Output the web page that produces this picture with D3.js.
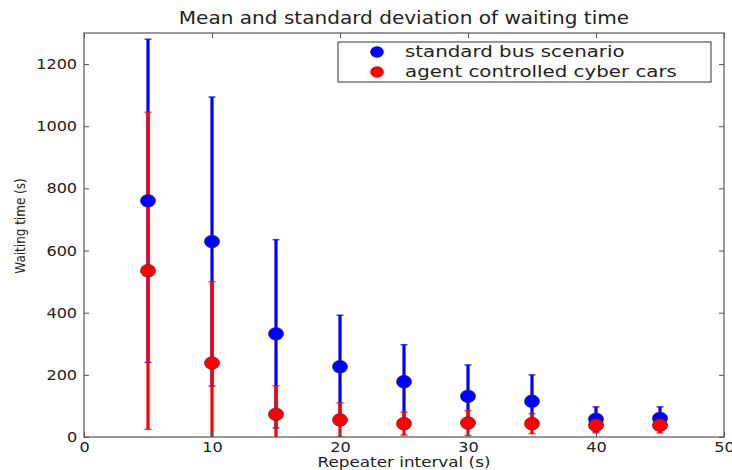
<!DOCTYPE html>
<html><head><meta charset="utf-8">
<script src="https://cdn.jsdelivr.net/npm/d3@7"></script>
<style>body{margin:0;background:#fff}svg{display:block}text{font-family:"DejaVu Sans",sans-serif;fill:#222}</style>
</head><body><svg id="c" width="732" height="470"></svg>
<script>
const intervals = [5, 10, 15, 20, 25, 30, 35, 40, 45];
const busMean = [760, 629, 332, 226, 178, 131, 115, 57, 60];
const busStd  = [520, 465, 303, 166, 119, 101, 85, 40, 37];
const carMean = [535, 238, 73, 55, 43, 45, 43, 38, 38];
const carStd  = [510, 262, 92, 55, 37, 40, 32, 25, 25];
const xTicks = [0, 10, 20, 30, 40, 50];
const yTicks = [0, 200, 400, 600, 800, 1000, 1200];
const seriesNames = ["standard bus scenario", "agent controlled cyber cars"];
const seriesColors = ["#0000ff", "#ff0000"];

const svg = d3.select("#c");
const L = 84, R = 724, T = 33, B = 437;
const x = d3.scaleLinear().domain([0, 50]).range([L, R]);
const y = d3.scaleLinear().domain([0, 1300]).range([B, T]);

svg.append("defs").append("clipPath").attr("id", "clip")
  .append("rect").attr("x", L).attr("y", T).attr("width", R - L).attr("height", B - T);

const series = [
  {mean: busMean, std: busStd, color: seriesColors[0]},
  {mean: carMean, std: carStd, color: seriesColors[1]}
];

const plot = svg.append("g").attr("clip-path", "url(#clip)");
series.forEach(s => {
  const g = plot.append("g");
  intervals.forEach((xi, i) => {
    const lo = s.mean[i] - s.std[i], hi = s.mean[i] + s.std[i];
    g.append("line").attr("x1", x(xi)).attr("x2", x(xi))
      .attr("y1", y(lo)).attr("y2", y(hi))
      .attr("stroke", s.color).attr("stroke-width", 3.2);
    [lo, hi].forEach(v => g.append("line")
      .attr("x1", x(xi) - 3.5).attr("x2", x(xi) + 3.5)
      .attr("y1", y(v)).attr("y2", y(v))
      .attr("stroke", s.color).attr("stroke-width", 1.5).attr("opacity", 0.75));
  });
});
series.forEach(s => {
  svg.append("g").selectAll("ellipse").data(intervals).join("ellipse")
    .attr("cx", d => x(d)).attr("cy", (d, i) => y(s.mean[i]))
    .attr("rx", 7.6).attr("ry", 6.4)
    .attr("fill", s.color).attr("stroke", "#333").attr("stroke-width", 0.6);
});

svg.append("rect").attr("x", L).attr("y", T).attr("width", R - L).attr("height", B - T)
  .attr("fill", "none").attr("stroke", "#555").attr("stroke-width", 1.2);

const fmt = d3.format("d");
const ax = svg.append("g").attr("transform", `translate(0,${B})`)
  .call(d3.axisBottom(x).tickValues(xTicks).tickFormat(fmt).tickSize(-5).tickPadding(5));
const at = svg.append("g").attr("transform", `translate(0,${T})`)
  .call(d3.axisTop(x).tickValues(xTicks).tickFormat("").tickSize(-5));
const ay = svg.append("g").attr("transform", `translate(${L},0)`)
  .call(d3.axisLeft(y).tickValues(yTicks).tickFormat(fmt).tickSize(-5).tickPadding(6));
const ar = svg.append("g").attr("transform", `translate(${R},0)`)
  .call(d3.axisRight(y).tickValues(yTicks).tickFormat("").tickSize(-5));
[ax, at, ay, ar].forEach(g => {
  g.select(".domain").remove();
  g.selectAll(".tick line").attr("stroke", "#555");
  g.selectAll("text").attr("font-size", 14).attr("font-family", "DejaVu Sans")
    .attr("fill", "#222").attr("transform", "scale(1.15,1)");
});

function label(px, py, size, sx, txt, rot) {
  svg.append("text")
    .attr("transform", `translate(${px},${py}) scale(${sx},1)` + (rot ? ` rotate(${rot})` : ""))
    .attr("text-anchor", "middle").attr("font-size", size).text(txt);
}
label(404, 24, 17, 1.18, "Mean and standard deviation of waiting time");
label(404, 467, 14, 1.2, "Repeater interval (s)");
label(25, 226, 12, 1.2, "Waiting time (s)", -90);

const lg = svg.append("g");
lg.append("rect").attr("x", 338).attr("y", 42).attr("width", 373).attr("height", 40)
  .attr("fill", "#fff").attr("stroke", "#333").attr("stroke-width", 1);
seriesNames.forEach((n, i) => {
  lg.append("ellipse").attr("cx", 377).attr("cy", 52 + i * 20).attr("rx", 6.8).attr("ry", 5.8)
    .attr("fill", seriesColors[i]);
  lg.append("text").attr("transform", `translate(405,${57 + i * 20}) scale(1.2,1)`)
    .attr("font-size", 16.5).text(n);
});
</script></body></html>
